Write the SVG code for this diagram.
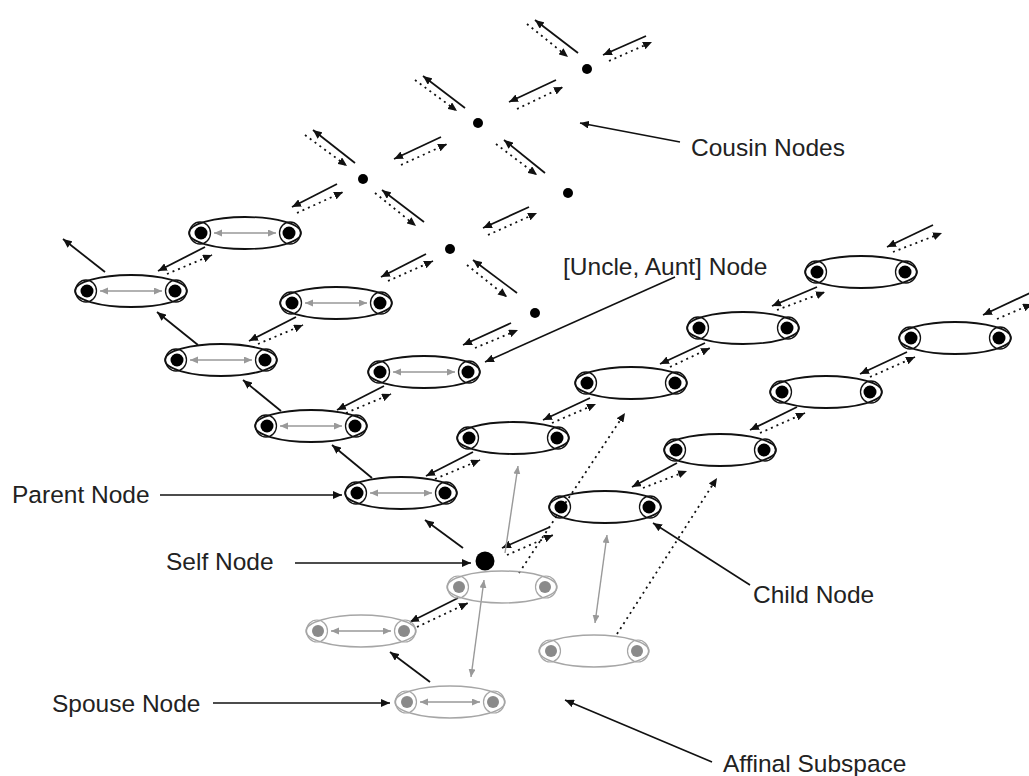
<svg xmlns="http://www.w3.org/2000/svg" xmlns:xlink="http://www.w3.org/1999/xlink" width="1029" height="776" viewBox="0 0 1029 776">
<style>
.e{fill:none;stroke:#111;stroke-width:1.8}
.r{fill:none;stroke:#111;stroke-width:1.3}
.dt{fill:#000}
.ge{fill:none;stroke:#a6a6a6;stroke-width:1.5}
.gr{fill:none;stroke:#a6a6a6;stroke-width:1.2}
.gd{fill:#8a8a8a}
.in{stroke:#999;stroke-width:1.5;marker-start:url(#gah);marker-end:url(#gah)}
.s{stroke:#111;stroke-width:1.8;fill:none;marker-end:url(#ah)}
.d{stroke:#111;stroke-width:1.8;fill:none;stroke-dasharray:2 4;marker-end:url(#ah)}
.g{stroke:#999;stroke-width:1.4;fill:none;marker-end:url(#gah)}
.g2{stroke:#999;stroke-width:1.4;fill:none;marker-end:url(#gah);marker-start:url(#gah)}
.p{stroke:#111;stroke-width:1.6;fill:none;marker-end:url(#ah)}
.lbl{font-family:"Liberation Sans",Arial,sans-serif;font-size:24.5px;fill:#222}
.cd{fill:#000}
</style>
<defs>
<marker id="ah" markerUnits="userSpaceOnUse" markerWidth="10" markerHeight="8" refX="9" refY="4" orient="auto-start-reverse"><path d="M0,0 L9,4 L0,8 z" fill="#111"/></marker>
<marker id="gah" markerUnits="userSpaceOnUse" markerWidth="9" markerHeight="8" refX="8" refY="3.5" orient="auto-start-reverse"><path d="M0,0 L8,3.5 L0,7 z" fill="#999"/></marker>
<g id="nb">
<ellipse class="e" cx="0" cy="0" rx="56" ry="16"/>
<ellipse class="r" cx="-45" cy="0" rx="10.5" ry="11"/>
<ellipse class="r" cx="45" cy="0" rx="10.5" ry="11"/>
<circle class="dt" cx="-44" cy="0" r="6.5"/>
<circle class="dt" cx="44" cy="0" r="6.5"/>
</g>
<g id="nba">
<use xlink:href="#nb"/>
<line class="in" x1="-31" y1="0" x2="31" y2="0"/>
</g>
<g id="ng">
<ellipse class="ge" cx="0" cy="0" rx="55" ry="16"/>
<ellipse class="gr" cx="-44" cy="0" rx="10.5" ry="11"/>
<ellipse class="gr" cx="44" cy="0" rx="10.5" ry="11"/>
<circle class="gd" cx="-43" cy="0" r="6"/>
<circle class="gd" cx="43" cy="0" r="6"/>
</g>
<g id="nga">
<use xlink:href="#ng"/>
<line class="in" x1="-30" y1="0" x2="30" y2="0"/>
</g>
</defs>
<rect width="1029" height="776" fill="#fff"/>

<g id="connectors">
<line class="s" x1="578" y1="53" x2="535" y2="20"/><line class="d" x1="527" y1="24" x2="568" y2="57"/>
<line class="s" x1="646" y1="36" x2="603" y2="55"/><line class="d" x1="609" y1="61" x2="652" y2="42"/>
<line class="s" x1="556" y1="80" x2="509" y2="102"/><line class="d" x1="517" y1="109" x2="563" y2="87"/>
<line class="s" x1="465" y1="108" x2="423" y2="76"/><line class="d" x1="415" y1="80" x2="457" y2="111"/>
<line class="s" x1="545" y1="173" x2="504" y2="140"/><line class="d" x1="496" y1="144" x2="537" y2="175"/>
<line class="s" x1="441" y1="137" x2="394" y2="159"/><line class="d" x1="401" y1="165" x2="447" y2="144"/>
<line class="s" x1="355" y1="163" x2="313" y2="130"/><line class="d" x1="305" y1="135" x2="347" y2="166"/>
<line class="s" x1="337" y1="184" x2="292" y2="207"/><line class="d" x1="297" y1="213" x2="343" y2="192"/>
<line class="s" x1="424" y1="222" x2="382" y2="190"/><line class="d" x1="375" y1="193" x2="416" y2="226"/>
<line class="s" x1="529" y1="207" x2="483" y2="228"/><line class="d" x1="488" y1="235" x2="537" y2="213"/>
<line class="s" x1="517" y1="293" x2="473" y2="260"/><line class="d" x1="467" y1="265" x2="507" y2="297"/>
<line class="s" x1="511" y1="323" x2="463" y2="345"/><line class="d" x1="475" y1="348" x2="518" y2="330"/>
<line class="s" x1="426" y1="254" x2="381" y2="277"/><line class="d" x1="388" y1="281" x2="433" y2="261"/>
<line class="s" x1="205" y1="247" x2="158" y2="271"/><line class="d" x1="167" y1="274" x2="212" y2="255"/>
<line class="s" x1="296" y1="317" x2="249" y2="341"/><line class="d" x1="258" y1="344" x2="303" y2="325"/>
<line class="s" x1="384" y1="386" x2="337" y2="410"/><line class="d" x1="346" y1="413" x2="391" y2="394"/>
<line class="s" x1="473" y1="452" x2="426" y2="476"/><line class="d" x1="435" y1="479" x2="480" y2="460"/>
<line class="s" x1="590" y1="398" x2="543" y2="420"/><line class="d" x1="552" y1="423" x2="596" y2="404"/>
<line class="s" x1="705" y1="343" x2="660" y2="364"/><line class="d" x1="670" y1="367" x2="710" y2="348"/>
<line class="s" x1="817" y1="287" x2="772" y2="306"/><line class="d" x1="777" y1="310" x2="825" y2="292"/>
<line class="s" x1="933" y1="225" x2="887" y2="247"/><line class="d" x1="893" y1="252" x2="942" y2="233"/>
<line class="s" x1="550" y1="527" x2="502" y2="548"/><line class="d" x1="507" y1="555" x2="553" y2="535"/>
<line class="s" x1="677" y1="463" x2="632" y2="487"/><line class="d" x1="643" y1="488" x2="687" y2="471"/>
<line class="s" x1="797" y1="407" x2="750" y2="430"/><line class="d" x1="760" y1="433" x2="805" y2="413"/>
<line class="s" x1="907" y1="352" x2="860" y2="374"/><line class="d" x1="870" y1="377" x2="915" y2="357"/>
<line class="s" x1="1032" y1="292" x2="983" y2="315"/><line class="d" x1="997" y1="319" x2="1032" y2="304"/>
<line class="s" x1="463" y1="548" x2="425" y2="520"/>
<line class="s" x1="372" y1="478" x2="332" y2="445"/>
<line class="s" x1="281" y1="411" x2="243" y2="380"/>
<line class="s" x1="198" y1="345" x2="157" y2="312"/>
<line class="s" x1="105" y1="272" x2="63" y2="239"/>
<line class="s" x1="458" y1="598" x2="410" y2="622"/><line class="d" x1="417" y1="627" x2="468" y2="603"/>
<line class="s" x1="430" y1="682" x2="390" y2="652"/>
<line class="g2" x1="484" y1="580" x2="471" y2="677"/>
<line class="g" x1="505" y1="553" x2="518" y2="466"/>
<line class="g2" x1="607" y1="535" x2="595" y2="623"/>
<line class="d" x1="617" y1="634" x2="717" y2="478"/>
<line class="d" x1="519" y1="573" x2="625" y2="413"/>
<line class="p" x1="680" y1="142" x2="580" y2="123"/>
<line class="p" x1="675" y1="277" x2="485" y2="362"/>
<line class="p" x1="160" y1="495" x2="342" y2="495"/>
<line class="p" x1="295" y1="563" x2="471" y2="563"/>
<line class="p" x1="213" y1="703" x2="390" y2="703"/>
<line class="p" x1="750" y1="585" x2="653" y2="523"/>
<line class="p" x1="712" y1="762" x2="565" y2="700"/>
</g>

<g id="parent-node"><use xlink:href="#nba" x="401" y="493"/></g>
<g id="grandparent-1"><use xlink:href="#nba" x="311" y="426"/></g>
<g id="grandparent-2"><use xlink:href="#nba" x="221" y="360"/></g>
<g id="grandparent-3"><use xlink:href="#nba" x="131" y="291"/></g>
<g id="uncle-1"><use xlink:href="#nba" x="245" y="233"/></g>
<g id="uncle-2"><use xlink:href="#nba" x="336" y="303"/></g>
<g id="uncle-3"><use xlink:href="#nba" x="424" y="372"/></g>
<g id="sibling-1"><use xlink:href="#nb" x="513" y="438"/></g>
<g id="sibling-2"><use xlink:href="#nb" x="631" y="383"/></g>
<g id="sibling-3"><use xlink:href="#nb" x="743" y="328"/></g>
<g id="sibling-4"><use xlink:href="#nb" x="861" y="272"/></g>
<g id="child-1"><use xlink:href="#nb" x="605" y="507"/></g>
<g id="child-2"><use xlink:href="#nb" x="720" y="450"/></g>
<g id="child-3"><use xlink:href="#nb" x="826" y="392"/></g>
<g id="child-4"><use xlink:href="#nb" x="955" y="338"/></g>
<g id="affinal-1"><use xlink:href="#ng" x="502" y="587"/></g>
<g id="affinal-2"><use xlink:href="#nga" x="361" y="631"/></g>
<g id="spouse-node"><use xlink:href="#nga" x="450" y="702"/></g>
<g id="affinal-3"><use xlink:href="#ng" x="594" y="651"/></g>
<g id="self-node"><circle cx="485" cy="561" r="9.5" fill="#000"/></g>
<g id="cousin-nodes">
<circle class="cd" cx="587" cy="69" r="5"/>
<circle class="cd" cx="478" cy="123" r="5"/>
<circle class="cd" cx="363" cy="179" r="5"/>
<circle class="cd" cx="568" cy="193" r="5"/>
<circle class="cd" cx="450" cy="249" r="5"/>
<circle class="cd" cx="535" cy="313" r="5"/>
</g>

<g id="labels">
<text class="lbl" x="691" y="156">Cousin Nodes</text>
<text class="lbl" x="563" y="275">[Uncle, Aunt] Node</text>
<text class="lbl" x="12" y="503">Parent Node</text>
<text class="lbl" x="166" y="570">Self Node</text>
<text class="lbl" x="52" y="712">Spouse Node</text>
<text class="lbl" x="753" y="603">Child Node</text>
<text class="lbl" x="723" y="772">Affinal Subspace</text>
</g>
</svg>
